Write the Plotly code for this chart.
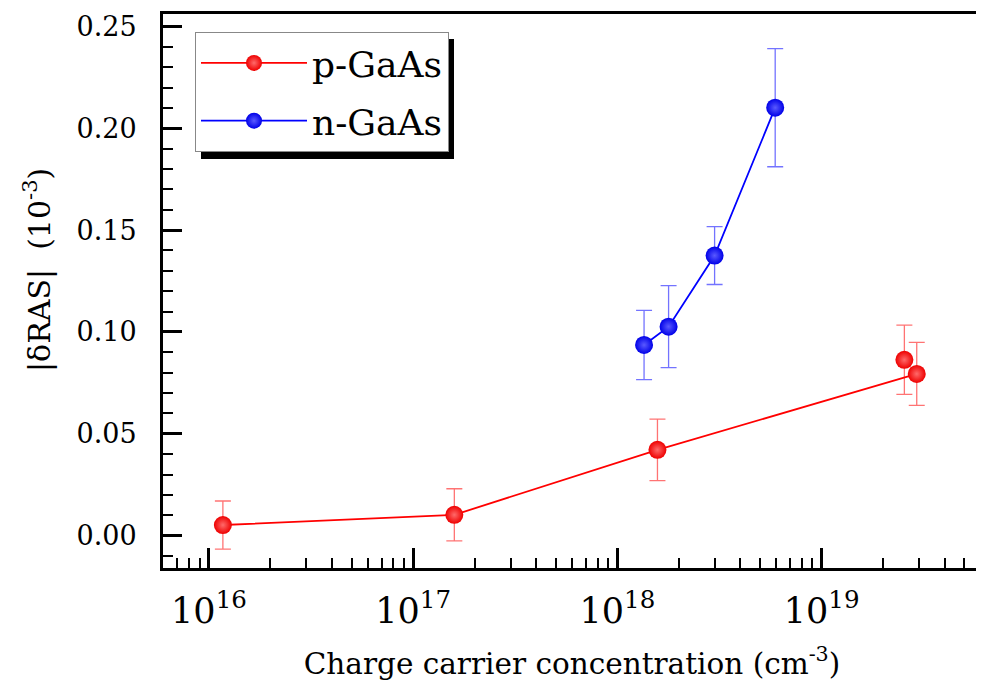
import plotly.graph_objects as go

# p-GaAs (connected points) and the extra point not on the line
p_x = [1.17e16, 1.59e17, 1.57e18, 2.92e19]
p_y = [0.0052, 0.0102, 0.0421, 0.0794]
p_err = [0.0118, 0.0128, 0.0151, 0.0155]
p_extra_x = [2.54e19]
p_extra_y = [0.0863]
p_extra_err = [0.0170]

# n-GaAs
n_x = [1.35e18, 1.78e18, 2.99e18, 5.92e18]
n_y = [0.0936, 0.1026, 0.1375, 0.2101]
n_err = [0.0170, 0.0201, 0.0142, 0.0290]

FONT = "DejaVu Serif"

# page body has an 8px margin; figure is sized/placed to compensate
W, H = 976, 678
L, R, T, B = 155, 3, 6, 118
PW, PH = W - L - R, H - T - B


def px_x(x):  # window pixel -> paper x
    return (x - 8 - L) / PW


def px_y(y):  # window pixel -> paper y
    return (H - B - (y - 8)) / PH


def marker(edge, center):
    return dict(size=18, color=edge, line=dict(width=0),
                gradient=dict(type="radial", color=center))


fig = go.Figure()
fig.add_trace(go.Scatter(
    x=p_extra_x, y=p_extra_y, mode="markers", showlegend=False,
    legendgroup="p",
    marker=marker("#ee0000", "#ff6a6a"),
    error_y=dict(type="data", array=p_extra_err, color="rgba(255,0,0,0.55)",
                 thickness=1.3, width=8)))
fig.add_trace(go.Scatter(
    x=p_x, y=p_y, mode="lines+markers", name="p-GaAs", legendgroup="p",
    line=dict(color="#ff0000", width=1.8),
    marker=marker("#ee0000", "#ff6a6a"),
    error_y=dict(type="data", array=p_err, color="rgba(255,0,0,0.55)",
                 thickness=1.3, width=8)))
fig.add_trace(go.Scatter(
    x=n_x, y=n_y, mode="lines+markers", name="n-GaAs", legendgroup="n",
    line=dict(color="#0000ff", width=1.8),
    marker=marker("#0000e8", "#5a5aff"),
    error_y=dict(type="data", array=n_err, color="rgba(0,0,255,0.55)",
                 thickness=1.3, width=8)))

fig.update_layout(
    width=W, height=H,
    margin=dict(l=L, r=R, t=T, b=B, autoexpand=False),
    paper_bgcolor="white", plot_bgcolor="white",
    font=dict(family=FONT, color="black"),
    showlegend=True,
    legend=dict(x=px_x(195), y=px_y(32), xanchor="left", yanchor="top",
                bgcolor="white", bordercolor="#888888", borderwidth=1,
                font=dict(size=36, family=FONT), itemwidth=106,
                tracegroupgap=8, traceorder="grouped"),
    xaxis=dict(type="log", range=[15.775, 19.78], dtick=1,
               exponentformat="power", showexponent="all",
               showline=True, linecolor="black", linewidth=3, mirror=True,
               ticks="inside", ticklen=20, tickwidth=2.5, tickcolor="black",
               showgrid=False, zeroline=False,
               ticklabelstandoff=11,
               tickfont=dict(size=28, family=FONT),
               minor=dict(ticks="inside", ticklen=10, tickwidth=2,
                          tickcolor="black", dtick="D1", showgrid=False),
               title=dict(text="Charge carrier concentration (cm<sup>-3</sup>)",
                          font=dict(size=29.5, family=FONT), standoff=24)),
    yaxis=dict(range=[-0.0159, 0.2561], dtick=0.05, tickformat=".2f",
               showline=True, linecolor="black", linewidth=3, mirror=True,
               ticks="inside", ticklen=19, tickwidth=2.5, tickcolor="black",
               showgrid=False, zeroline=False,
               ticklabelstandoff=18,
               tickfont=dict(size=27, family=FONT),
               minor=dict(ticks="inside", ticklen=10, tickwidth=2,
                          tickcolor="black", dtick=0.01, showgrid=False)),
    annotations=[dict(text="|δRAS|  (10<sup>-3</sup>)", textangle=-90,
                      xref="paper", yref="paper", x=px_x(37), y=px_y(270),
                      xanchor="center", yanchor="middle", showarrow=False,
                      font=dict(size=30, family=FONT))],
    shapes=[dict(type="rect", xref="paper", yref="paper",
                 x0=px_x(201), x1=px_x(454),
                 y0=px_y(159), y1=px_y(39),
                 fillcolor="black", line=dict(width=0), layer="above")],
)

fig.write_html("out.html")
